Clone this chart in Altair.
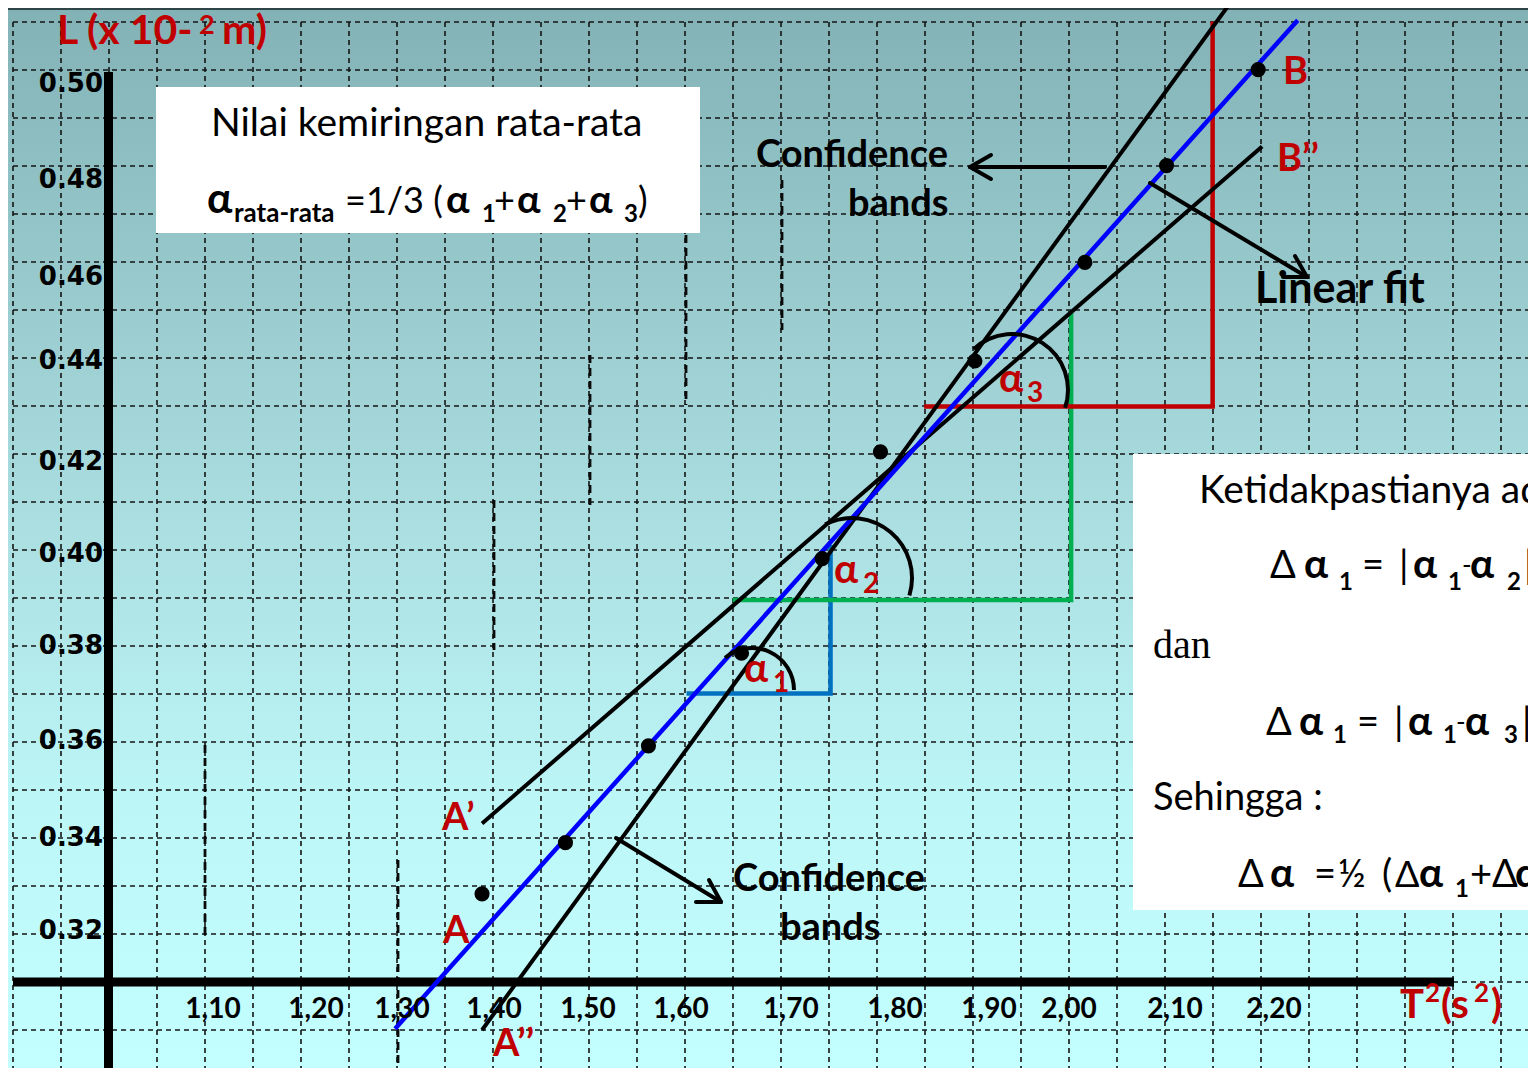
import altair as alt
import pandas as pd

# ---------------- chart data ----------------
x_ticks = [1.10, 1.20, 1.30, 1.40, 1.50, 1.60, 1.70, 1.80, 1.90, 2.00, 2.10, 2.20]
x_tick_labels = ["1,10", "1,20", "1,30", "1,40", "1,50", "1,60", "1,70", "1,80", "1,90", "2,00", "2,10", "2,20"]
y_ticks = [0.32, 0.34, 0.36, 0.38, 0.40, 0.42, 0.44, 0.46, 0.48, 0.50]
y_tick_labels = ["0.32", "0.34", "0.36", "0.38", "0.40", "0.42", "0.44", "0.46", "0.48", "0.50"]

# measured points (T^2 in s^2, L in 10^-2 m)
t2_points = [1.387, 1.476, 1.565, 1.655, 1.730, 1.786, 1.885, 2.015, 2.092, 2.184]
L_points = [0.328, 0.339, 0.359, 0.3785, 0.399, 0.422, 0.440, 0.463, 0.483, 0.503]

# linear fit (A -> B) and confidence bands (A'' -> top, A' -> B'')
fit_t2 = [1.292, 2.224]
fit_L = [0.299, 0.5133]
band_steep_t2 = [1.387, 2.158]
band_steep_L = [0.2987, 0.5175]
band_flat_t2 = [1.387, 2.188]
band_flat_L = [0.343, 0.487]

# slope triangles alpha1 (blue), alpha2 (green), alpha3 (red)
tri1_t2 = [1.605, 1.738, 1.738]
tri1_L = [0.370, 0.370, 0.402]
tri2_t2 = [1.647, 2.002, 2.002]
tri2_L = [0.390, 0.390, 0.452]
tri3_t2 = [1.831, 2.138, 2.138]
tri3_L = [0.431, 0.431, 0.513]

# ---------------- layout ----------------
W, H = 1520, 1060
M = 8  # page margin: screenshot coords -> plot coords
x_tick_px = [213, 316, 402, 494, 588, 681, 791, 895, 989, 1069, 1175, 1274]
y_tick_px = [931, 838, 741, 646, 554, 462, 361, 277, 180, 84]

xs = alt.Scale(domain=x_ticks, range=[p - M for p in x_tick_px], zero=False, nice=False)
ys = alt.Scale(domain=y_ticks, range=[p - M for p in y_tick_px], zero=False, nice=False)

FONT = "Lato"
RED = "#c00000"


def X(f):
    return alt.X(f, type="quantitative", scale=xs, axis=None)


def Y(f):
    return alt.Y(f, type="quantitative", scale=ys, axis=None)


def PX(f):
    return alt.X(f, type="quantitative", scale=None)


def PY(f):
    return alt.Y(f, type="quantitative", scale=None)


def seg_layer(rows, **mk):
    df = pd.DataFrame(rows, columns=["x1", "y1", "x2", "y2"])
    for c in ["x1", "y1", "x2", "y2"]:
        df[c] = df[c] - M
    return alt.Chart(df).mark_rule(**mk).encode(
        x=PX("x1"), y=PY("y1"), x2=alt.X2("x2"), y2=alt.Y2("y2")
    )


def text_layer(rows, font=FONT, weight="normal", color="black", align="left", baseline="alphabetic"):
    df = pd.DataFrame(rows, columns=["t", "x", "y", "s"])
    df["x"] = df["x"] - M
    df["y"] = df["y"] - M
    return alt.Chart(df).mark_text(
        align=align, baseline=baseline, font=font, fontWeight=weight, color=color
    ).encode(x=PX("x"), y=PY("y"), text="t:N", size=alt.Size("s:Q", scale=None))


def line_layer(t2, L, color, width):
    df = pd.DataFrame({"t2": t2, "L": L, "o": list(range(len(t2)))})
    return alt.Chart(df).mark_line(
        color=color, strokeWidth=width, strokeJoin="miter", strokeCap="butt"
    ).encode(x=X("t2"), y=Y("L"), order="o:Q")


one = pd.DataFrame({"a": [0]})

# background gradient
bg = alt.Chart(one).mark_rect(
    color=alt.LinearGradient(
        gradient="linear",
        stops=[
            alt.GradientStop(offset=0, color="#82b2b6"),
            alt.GradientStop(offset=0.45, color="#a8dbde"),
            alt.GradientStop(offset=0.75, color="#bdf6f7"),
            alt.GradientStop(offset=1, color="#c3ffff"),
        ],
        x1=0, x2=0, y1=0, y2=1,
    )
).encode(x=alt.value(0), x2=alt.value(W), y=alt.value(0), y2=alt.value(H))

# graph-paper grid
vgrid = [(13 + 48 * k, 22, 13 + 48 * k, 1076) for k in range(32)]
hgrid = [(13, 22 + 48 * k, 1536, 22 + 48 * k) for k in range(22)]
grid = seg_layer(vgrid + hgrid, color="#141414", strokeWidth=1.6, strokeDash=[5, 4])
heavy = seg_layer(
    [(205, 745, 205, 935), (398, 860, 398, 1076), (494, 500, 494, 650),
     (590, 355, 590, 505), (686, 235, 686, 405), (782, 180, 782, 330)],
    color="#0a0a0a", strokeWidth=2.8, strokeDash=[8, 5],
)
topline = seg_layer([(0, 9, 1536, 9)], color="#2e4446", strokeWidth=2)

# white boxes
boxes_df = pd.DataFrame({"x1": [156 - M, 1133 - M], "y1": [87 - M, 454 - M],
                         "x2": [700 - M, 1536 - M], "y2": [233 - M, 910 - M]})
boxes = alt.Chart(boxes_df).mark_rect(color="white").encode(
    x=PX("x1"), y=PY("y1"), x2=alt.X2("x2"), y2=alt.Y2("y2")
)

# axes (drawn lines)
axes = seg_layer([(13, 982, 1454, 982), (108.5, 72, 108.5, 1076)], color="black", strokeWidth=9)

tri1 = line_layer(tri1_t2, tri1_L, "#0070c0", 4.5)
tri2 = line_layer(tri2_t2, tri2_L, "#00b050", 4.5)
tri3 = line_layer(tri3_t2, tri3_L, RED, 4.5)
band1 = line_layer(band_steep_t2, band_steep_L, "black", 4)
band2 = line_layer(band_flat_t2, band_flat_L, "black", 4)
fit = line_layer(fit_t2, fit_L, "#0000ff", 4.5)

pts = alt.Chart(pd.DataFrame({"t2": t2_points, "L": L_points})).mark_circle(
    size=230, color="black", opacity=1
).encode(x=X("t2"), y=Y("L"))

# angle arcs
arcs_df = pd.DataFrame({
    "cx": [752 - M, 852 - M, 1012 - M],
    "cy": [690 - M, 578 - M, 390 - M],
    "a1": [5.59, 5.82, 5.53],
    "a2": [7.854, 8.15, 8.18],
    "ro": [44, 62, 58],
    "ri": [40, 58, 54],
})
arcs = alt.Chart(arcs_df).mark_arc(color="black").encode(
    x=PX("cx"), y=PY("cy"),
    theta=alt.Theta("a1:Q", scale=None, stack=False), theta2=alt.Theta2("a2"),
    radius=alt.Radius("ro:Q", scale=None), radius2=alt.Radius2("ri"),
)

# arrows
arrows = seg_layer(
    [(1105, 167, 970, 167), (970, 167, 991, 155), (970, 167, 991, 179),
     (1150, 183, 1307, 277), (1307, 277, 1295, 256), (1307, 277, 1283, 277),
     (616, 838, 721, 902), (721, 902, 709, 880), (721, 902, 696, 902)],
    color="black", strokeWidth=4, strokeCap="round",
)

# tick labels
xlab = alt.Chart(pd.DataFrame({"v": x_ticks, "t": x_tick_labels})).mark_text(
    font=FONT, fontWeight="bold", fontSize=28, align="center", baseline="alphabetic", color="black"
).encode(x=X("v"), y=alt.value(1018 - M), text="t:N")
ylab = alt.Chart(pd.DataFrame({"v": y_ticks, "t": y_tick_labels})).mark_text(
    font="DejaVu Sans", fontWeight="bold", fontSize=26, align="right", baseline="middle", color="black"
).encode(x=alt.value(103 - M), y=Y("v"), text="t:N")

# texts
black_regular = text_layer([
    ("Nilai kemiringan rata-rata", 211, 136, 39),
    ("=1/3 (", 345, 213, 36), ("+", 494, 213, 36), ("+", 566, 213, 36), (")", 638, 213, 36),
    ("Ketidakpastianya ad", 1199, 503, 39),
    ("Δ", 1270, 578, 38), ("=", 1362, 578, 38), ("|", 1399, 578, 38), ("-", 1462, 574, 26), ("|", 1524, 578, 38),
    ("Δ", 1266, 735, 38), ("=", 1357, 735, 38), ("|", 1394, 735, 38), ("-", 1456, 731, 26), ("|", 1522, 735, 38),
    ("Sehingga :", 1153, 810, 38),
    ("Δ", 1238, 887, 38), ("=", 1314, 887, 38), ("½", 1338, 887, 38), ("(", 1382, 887, 38),
    ("Δ", 1395, 887, 36), ("+", 1470, 887, 38), ("Δ", 1492, 887, 38),
])
black_bold = text_layer([
    ("α", 207, 213, 42), ("rata-rata", 234, 222, 26),
    ("α", 446, 213, 39), ("1", 482, 222, 24), ("α", 517, 213, 39), ("2", 553, 222, 24),
    ("α", 589, 213, 39), ("3", 624, 222, 24),
    ("α", 1304, 578, 40), ("1", 1339, 590, 24), ("α", 1413, 578, 40), ("1", 1448, 590, 24),
    ("α", 1470, 578, 40), ("2", 1507, 590, 24),
    ("α", 1299, 735, 40), ("1", 1333, 743, 24), ("α", 1408, 735, 40), ("1", 1443, 743, 24),
    ("α", 1465, 735, 40), ("3", 1504, 743, 24),
    ("α", 1270, 887, 40), ("α", 1419, 887, 40), ("1", 1455, 897, 24), ("α", 1515, 887, 40),
    ("Confidence", 756, 167, 38), ("bands", 848, 216, 38), ("Linear fit", 1255, 303, 43),
    ("Confidence", 733, 891, 38), ("bands", 780, 940, 38),
], weight="bold")
serif = text_layer([("dan", 1153, 658, 40)], font="Liberation Serif")
red_bold = text_layer([
    ("L (x 10-", 57, 44, 41), ("2", 199, 34, 27), ("m)", 222, 44, 41),
    ("B", 1283, 84, 38), ("B’’", 1277, 171, 38), ("A’", 442, 830, 38), ("A", 443, 943, 38), ("A’’", 493, 1056, 38),
    ("α", 999, 392, 40), ("3", 1027, 402, 28),
    ("α", 834, 583, 40), ("2", 863, 593, 28),
    ("α", 744, 682, 40), ("1", 773, 692, 28),
    ("T", 1400, 1018, 40), ("2", 1425, 1002, 26), ("(s", 1441, 1018, 40), ("2", 1474, 1002, 26), (")", 1491, 1018, 40),
], weight="bold", color=RED)

chart = alt.layer(
    bg, grid, heavy, topline, boxes, axes,
    tri1, tri2, tri3, band1, band2, fit, pts, arcs, arrows,
    xlab, ylab, black_regular, black_bold, serif, red_bold,
).properties(
    width=W, height=H, autosize="none", padding=0
).configure_view(stroke=None)

chart.save("out.html", embed_options={"renderer": "svg", "actions": False})
